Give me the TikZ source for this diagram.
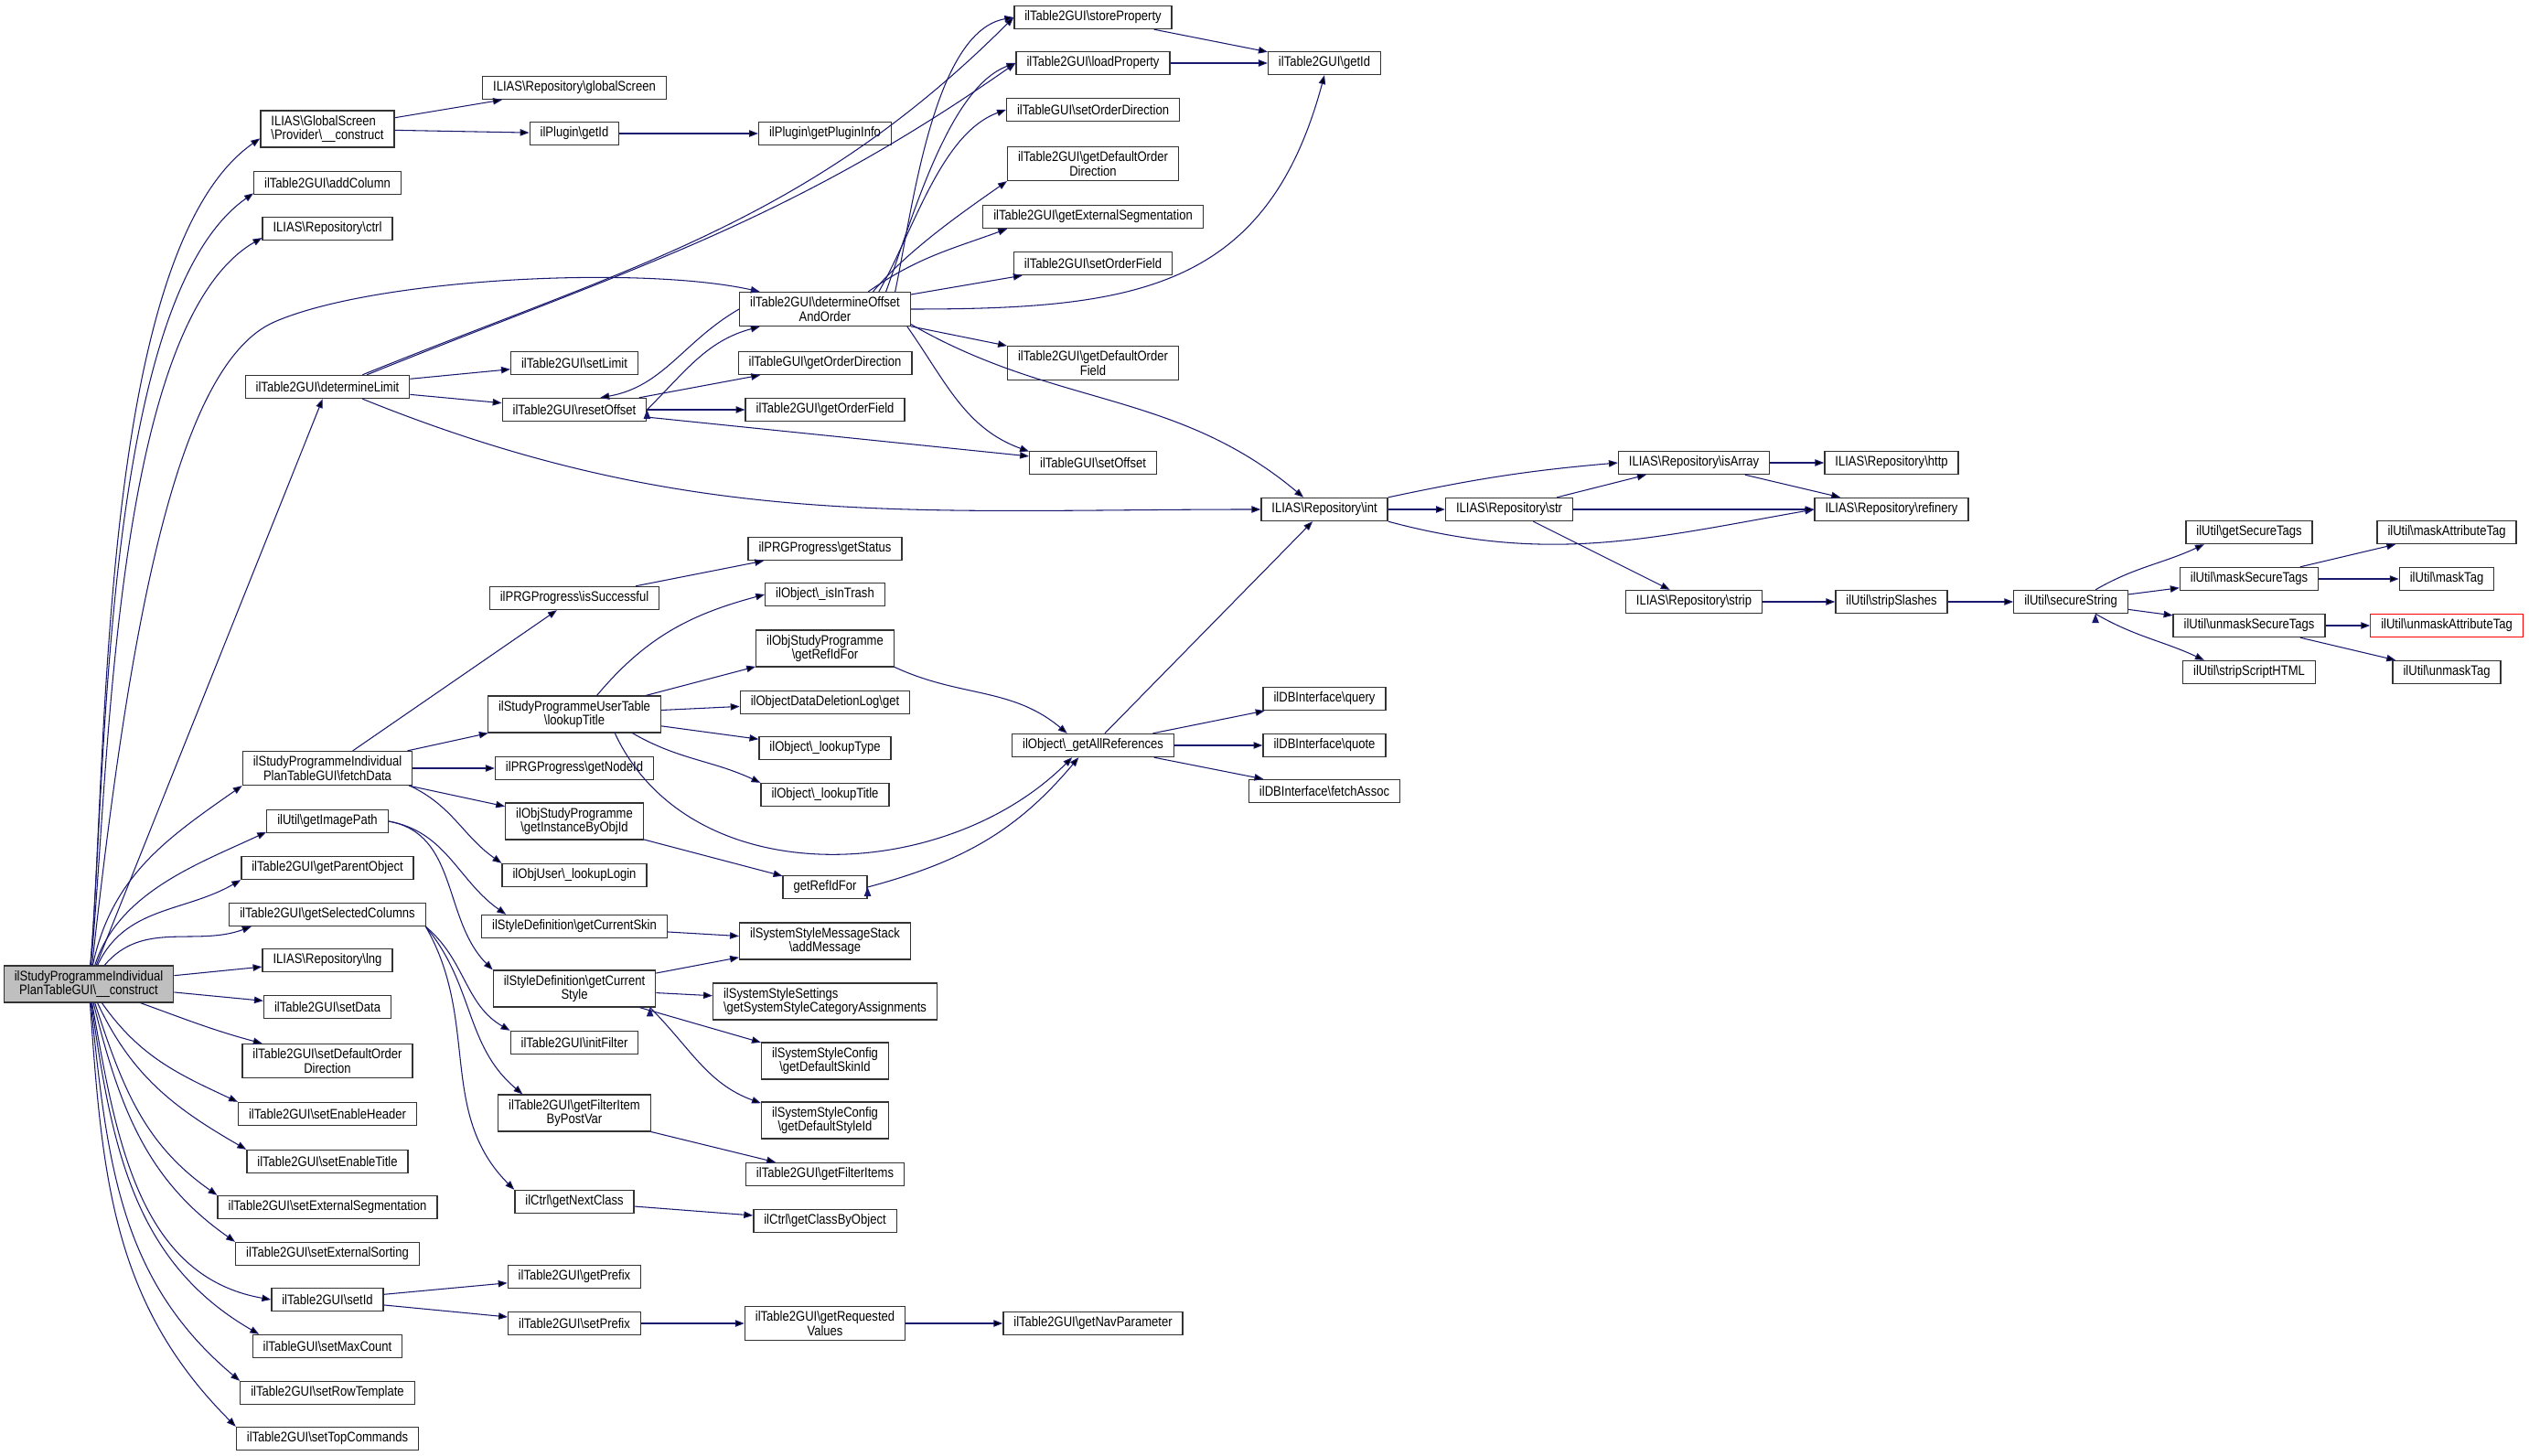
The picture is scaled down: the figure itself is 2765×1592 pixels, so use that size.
\documentclass[tikz,border=0pt]{standalone}
\usepackage{fontspec}
\setmainfont{Liberation Sans}[FakeStretch=0.86]
\usetikzlibrary{arrows.meta}
\definecolor{edgeblue}{HTML}{191970}
\newcommand{\bsl}{\textbackslash}

\begin{document}
\begin{tikzpicture}[x=0.567pt,y=0.567pt]

\tikzstyle{fn}=[draw=black!80, line width=0.75pt, fill=white, inner xsep=6.5pt, inner ysep=3pt, minimum height=14.2pt, align=center, font=\fontsize{8.6pt}{8.6pt}\selectfont]
\tikzstyle{root}=[fill=black!25]
\tikzstyle{trunc}=[draw=red]
\tikzstyle{call}=[draw=edgeblue, line width=0.6pt, -{Triangle[length=5.6pt,width=4.2pt]}]

\fill[white] (0,0) rectangle (2765,-1592);
\useasboundingbox (0,0) rectangle (2765,-1592);

% caller
\node[fn, root] (main) at (97,-1076) {ilStudyProgrammeIndividual\\PlanTableGUI\bsl\_\_construct};

% first level
\node[fn, align=left] (gsProv) at (358,-141) {ILIAS\bsl GlobalScreen\\\bsl Provider\bsl\_\_construct};
\node[fn] (addColumn) at (358,-200) {ilTable2GUI\bsl addColumn};
\node[fn] (ctrl) at (358,-250) {ILIAS\bsl Repository\bsl ctrl};
\node[fn] (detLimit) at (358,-423) {ilTable2GUI\bsl determineLimit};
\node[fn] (fetchData) at (358,-840) {ilStudyProgrammeIndividual\\PlanTableGUI\bsl fetchData};
\node[fn] (imagePath) at (358,-898) {ilUtil\bsl getImagePath};
\node[fn] (parentObj) at (358,-949) {ilTable2GUI\bsl getParentObject};
\node[fn] (selColumns) at (358,-1000) {ilTable2GUI\bsl getSelectedColumns};
\node[fn] (repLng) at (358,-1050) {ILIAS\bsl Repository\bsl lng};
\node[fn] (setData) at (358,-1101) {ilTable2GUI\bsl setData};
\node[fn] (setDefOrdDir) at (358,-1160) {ilTable2GUI\bsl setDefaultOrder\\Direction};
\node[fn] (setEnHeader) at (358,-1218) {ilTable2GUI\bsl setEnableHeader};
\node[fn] (setEnTitle) at (358,-1270) {ilTable2GUI\bsl setEnableTitle};
\node[fn] (setExtSeg) at (358,-1320) {ilTable2GUI\bsl setExternalSegmentation};
\node[fn] (setExtSort) at (358,-1371) {ilTable2GUI\bsl setExternalSorting};
\node[fn] (setId) at (358,-1421) {ilTable2GUI\bsl setId};
\node[fn] (setMaxCount) at (358,-1472) {ilTableGUI\bsl setMaxCount};
\node[fn] (setRowTpl) at (358,-1523) {ilTable2GUI\bsl setRowTemplate};
\node[fn] (setTopCmds) at (358,-1573) {ilTable2GUI\bsl setTopCommands};

% second level
\node[fn] (globalScreen) at (628,-96) {ILIAS\bsl Repository\bsl globalScreen};
\node[fn] (plugGetId) at (628,-146) {ilPlugin\bsl getId};
\node[fn] (setLimit) at (628,-397) {ilTable2GUI\bsl setLimit};
\node[fn] (resetOffset) at (628,-448) {ilTable2GUI\bsl resetOffset};
\node[fn] (isSuccess) at (628,-654) {ilPRGProgress\bsl isSuccessful};
\node[fn] (userLookup) at (628,-781) {ilStudyProgrammeUserTable\\\bsl lookupTitle};
\node[fn] (getNodeId) at (628,-840) {ilPRGProgress\bsl getNodeId};
\node[fn] (instByObjId) at (628,-898) {ilObjStudyProgramme\\\bsl getInstanceByObjId};
\node[fn] (lookupLogin) at (628,-957) {ilObjUser\bsl\_lookupLogin};
\node[fn] (curSkin) at (628,-1013) {ilStyleDefinition\bsl getCurrentSkin};
\node[fn] (curStyle) at (628,-1081) {ilStyleDefinition\bsl getCurrent\\Style};
\node[fn] (initFilter) at (628,-1140) {ilTable2GUI\bsl initFilter};
\node[fn] (filterItem) at (628,-1217) {ilTable2GUI\bsl getFilterItem\\ByPostVar};
\node[fn] (nextClass) at (628,-1314) {ilCtrl\bsl getNextClass};
\node[fn] (getPrefix) at (628,-1396) {ilTable2GUI\bsl getPrefix};
\node[fn] (setPrefix) at (628,-1447) {ilTable2GUI\bsl setPrefix};

% third level
\node[fn] (plugInfo) at (902,-146) {ilPlugin\bsl getPluginInfo};
\node[fn] (detOffset) at (902,-338) {ilTable2GUI\bsl determineOffset\\AndOrder};
\node[fn] (getOrdDir) at (902,-397) {ilTableGUI\bsl getOrderDirection};
\node[fn] (getOrdField) at (902,-448) {ilTable2GUI\bsl getOrderField};
\node[fn] (getStatus) at (902,-600) {ilPRGProgress\bsl getStatus};
\node[fn] (isInTrash) at (902,-650) {ilObject\bsl\_isInTrash};
\node[fn] (refIdForObj) at (902,-709) {ilObjStudyProgramme\\\bsl getRefIdFor};
\node[fn] (delLogGet) at (902,-768) {ilObjectDataDeletionLog\bsl get};
\node[fn] (lookupType) at (902,-818) {ilObject\bsl\_lookupType};
\node[fn] (objLookup) at (902,-869) {ilObject\bsl\_lookupTitle};
\node[fn] (refIdFor) at (902,-970) {getRefIdFor};
\node[fn] (addMessage) at (902,-1029) {ilSystemStyleMessageStack\\\bsl addMessage};
\node[fn, align=left] (catAssign) at (902,-1095) {ilSystemStyleSettings\\\bsl getSystemStyleCategoryAssignments};
\node[fn] (defSkinId) at (902,-1160) {ilSystemStyleConfig\\\bsl getDefaultSkinId};
\node[fn] (defStyleId) at (902,-1225) {ilSystemStyleConfig\\\bsl getDefaultStyleId};
\node[fn] (filterItems) at (902,-1284) {ilTable2GUI\bsl getFilterItems};
\node[fn] (classByObj) at (902,-1335) {ilCtrl\bsl getClassByObject};
\node[fn] (reqValues) at (902,-1447) {ilTable2GUI\bsl getRequested\\Values};

% fourth level
\node[fn] (storeProp) at (1195,-19) {ilTable2GUI\bsl storeProperty};
\node[fn] (loadProp) at (1195,-69) {ilTable2GUI\bsl loadProperty};
\node[fn] (setOrdDir) at (1195,-120) {ilTableGUI\bsl setOrderDirection};
\node[fn] (getDefOrdDir) at (1195,-179) {ilTable2GUI\bsl getDefaultOrder\\Direction};
\node[fn] (getExtSeg) at (1195,-237) {ilTable2GUI\bsl getExternalSegmentation};
\node[fn] (setOrdField) at (1195,-288) {ilTable2GUI\bsl setOrderField};
\node[fn] (getDefOrdField) at (1195,-397) {ilTable2GUI\bsl getDefaultOrder\\Field};
\node[fn] (setOffset) at (1195,-506) {ilTableGUI\bsl setOffset};
\node[fn] (allRefs) at (1195,-815) {ilObject\bsl\_getAllReferences};
\node[fn] (navParam) at (1195,-1447) {ilTable2GUI\bsl getNavParameter};

% repository helpers
\node[fn] (getId) at (1448,-69) {ilTable2GUI\bsl getId};
\node[fn] (repInt) at (1448,-557) {ILIAS\bsl Repository\bsl int};
\node[fn] (dbQuery) at (1448,-764) {ilDBInterface\bsl query};
\node[fn] (dbQuote) at (1448,-815) {ilDBInterface\bsl quote};
\node[fn] (dbFetch) at (1448,-865) {ilDBInterface\bsl fetchAssoc};
\node[fn] (repStr) at (1650,-557) {ILIAS\bsl Repository\bsl str};
\node[fn] (isArray) at (1852,-506) {ILIAS\bsl Repository\bsl isArray};
\node[fn] (repStrip) at (1852,-658) {ILIAS\bsl Repository\bsl strip};
\node[fn] (http) at (2068,-506) {ILIAS\bsl Repository\bsl http};
\node[fn] (refinery) at (2068,-557) {ILIAS\bsl Repository\bsl refinery};
\node[fn] (stripSlashes) at (2068,-658) {ilUtil\bsl stripSlashes};
\node[fn] (secureString) at (2264,-658) {ilUtil\bsl secureString};
\node[fn] (getSecTags) at (2459,-582) {ilUtil\bsl getSecureTags};
\node[fn] (maskSecTags) at (2459,-633) {ilUtil\bsl maskSecureTags};
\node[fn] (unmaskSecTags) at (2459,-684) {ilUtil\bsl unmaskSecureTags};
\node[fn] (stripScript) at (2459,-735) {ilUtil\bsl stripScriptHTML};
\node[fn] (maskAttr) at (2675,-582) {ilUtil\bsl maskAttributeTag};
\node[fn] (maskTag) at (2675,-633) {ilUtil\bsl maskTag};
\node[fn, trunc] (unmaskAttr) at (2675,-684) {ilUtil\bsl unmaskAttributeTag};
\node[fn] (unmaskTag) at (2675,-735) {ilUtil\bsl unmaskTag};

% calls of the constructor
\draw[call]
(main) edge[out=85,in=215,looseness=0.6] (gsProv.-172)
(main) edge[out=85,in=215,looseness=0.6] (addColumn.-172)
(main) edge[out=84,in=210,looseness=0.6] (ctrl.-172)
(main) edge (detLimit)
(main) edge[out=78,in=215] (fetchData.south west)
(main) edge[out=72,in=205,looseness=0.9] (imagePath.-170)
(main) edge[out=65,in=210] (parentObj.south west)
(main) edge[out=50,in=200] (selColumns.-171)
(main) edge (repLng)
(main) edge (setData)
(main) edge[out=-20,in=165] (setDefOrdDir.165)
(main) edge[out=-55,in=155] (setEnHeader.north west)
(main) edge[out=-65,in=150] (setEnTitle.north west)
(main) edge[out=-72,in=145] (setExtSeg.north west)
(main) edge[out=-76,in=145] (setExtSort.north west)
(main) edge[out=-80,in=170] (setId.west)
(main) edge[out=-82,in=150] (setMaxCount.170)
(main) edge[out=-84,in=140] (setRowTpl.north west)
(main) edge[out=-86,in=135] (setTopCmds.north west);
\draw[call] (main.80) .. controls (140,-700) and (190,-400) .. (300,-352)
  .. controls (410,-304) and (700,-290) .. (detOffset.165);

% table offsets and limits
\draw[call]
(gsProv) edge (globalScreen)
(gsProv) edge (plugGetId)
(plugGetId) edge (plugInfo)
(detLimit.19) edge[out=22,in=225] (storeProp.west)
(detLimit.17) edge[out=22,in=215] (loadProp.west)
(detLimit) edge (setLimit)
(detLimit) edge (resetOffset)
(detLimit.-19) edge[out=-22,in=180] (repInt.west)
(detOffset.14) edge[out=78,in=190,looseness=0.7] (storeProp.west)
(detOffset.16) edge[out=70,in=200,looseness=0.7] (loadProp.west)
(detOffset.18) edge[out=60,in=200,looseness=0.8] (setOrdDir.west)
(detOffset.20) edge[out=50,in=215,looseness=0.8] (getDefOrdDir.south west)
(detOffset.22) edge[out=35,in=200] (getExtSeg.-172)
(detOffset) edge (setOrdField)
(detOffset.east) edge[out=0,in=-105,looseness=1.2] (getId.south)
(detOffset) edge (getDefOrdField)
(detOffset.-12) edge[out=-55,in=160] (setOffset.170)
(detOffset.-10) edge[out=-30,in=140] (repInt.150)
(detOffset.west) edge[out=210,in=10] (resetOffset.25)
(resetOffset.east) edge[out=45,in=195] (detOffset.-165)
(resetOffset) edge (getOrdDir)
(resetOffset) edge (getOrdField)
(resetOffset) edge (setOffset)
(storeProp) edge (getId)
(loadProp) edge (getId);

% repository and string helpers
\draw[call]
(repInt) edge (repStr)
(repInt.north east) edge[out=12,in=185] (isArray.west)
(repInt.south east) edge[out=-15,in=190] (refinery.west)
(repStr) edge (isArray)
(repStr) edge (refinery)
(repStr) edge (repStrip)
(isArray) edge (http)
(isArray) edge (refinery)
(repStrip) edge (stripSlashes)
(stripSlashes) edge (secureString)
(secureString.26) edge[out=30,in=205] (getSecTags.-165)
(secureString) edge (maskSecTags)
(secureString) edge (unmaskSecTags)
(secureString.-26) edge[out=-30,in=155] (stripScript.165)
(maskSecTags) edge (maskAttr)
(maskSecTags) edge (maskTag)
(unmaskSecTags) edge (unmaskAttr)
(unmaskSecTags) edge (unmaskTag);

% data fetching
\draw[call]
(fetchData) edge (isSuccess)
(fetchData) edge (userLookup)
(fetchData) edge (getNodeId)
(fetchData) edge (instByObjId)
(fetchData.-12) edge[out=-25,in=145] (lookupLogin.north west)
(isSuccess) edge (getStatus)
(userLookup.40) edge[out=50,in=195] (isInTrash.west)
(userLookup) edge (refIdForObj)
(userLookup) edge (delLogGet)
(userLookup) edge (lookupType)
(userLookup.-18) edge[out=-30,in=155] (objLookup.north west)
(userLookup.-25) edge[out=-65,in=225] (allRefs.-150)
(refIdForObj.-15) edge[out=-25,in=140] (allRefs.155)
(instByObjId) edge (refIdFor)
(refIdFor.east) edge[out=15,in=230] (allRefs.-140)
(allRefs) edge (repInt)
(allRefs) edge (dbQuery)
(allRefs) edge (dbQuote)
(allRefs) edge (dbFetch);

% styles, filters and ids
\draw[call]
(imagePath.east) edge[out=-10,in=145] (curSkin.170)
(imagePath.east) edge[out=-10,in=135] (curStyle.north west)
(selColumns.-7) edge[out=-40,in=150] (initFilter.north west)
(selColumns.-7) edge[out=-50,in=140] (filterItem.160)
(selColumns.-7) edge[out=-60,in=135] (nextClass.north west)
(curSkin) edge (addMessage)
(curStyle) edge (addMessage)
(curStyle) edge (catAssign)
(curStyle) edge (defSkinId)
(curStyle.-14) edge[out=-45,in=160] (defStyleId.165)
(filterItem) edge (filterItems)
(nextClass) edge (classByObj)
(setId) edge (getPrefix)
(setId) edge (setPrefix)
(setPrefix) edge (reqValues)
(reqValues) edge (navParam);

\end{tikzpicture}
\end{document}
